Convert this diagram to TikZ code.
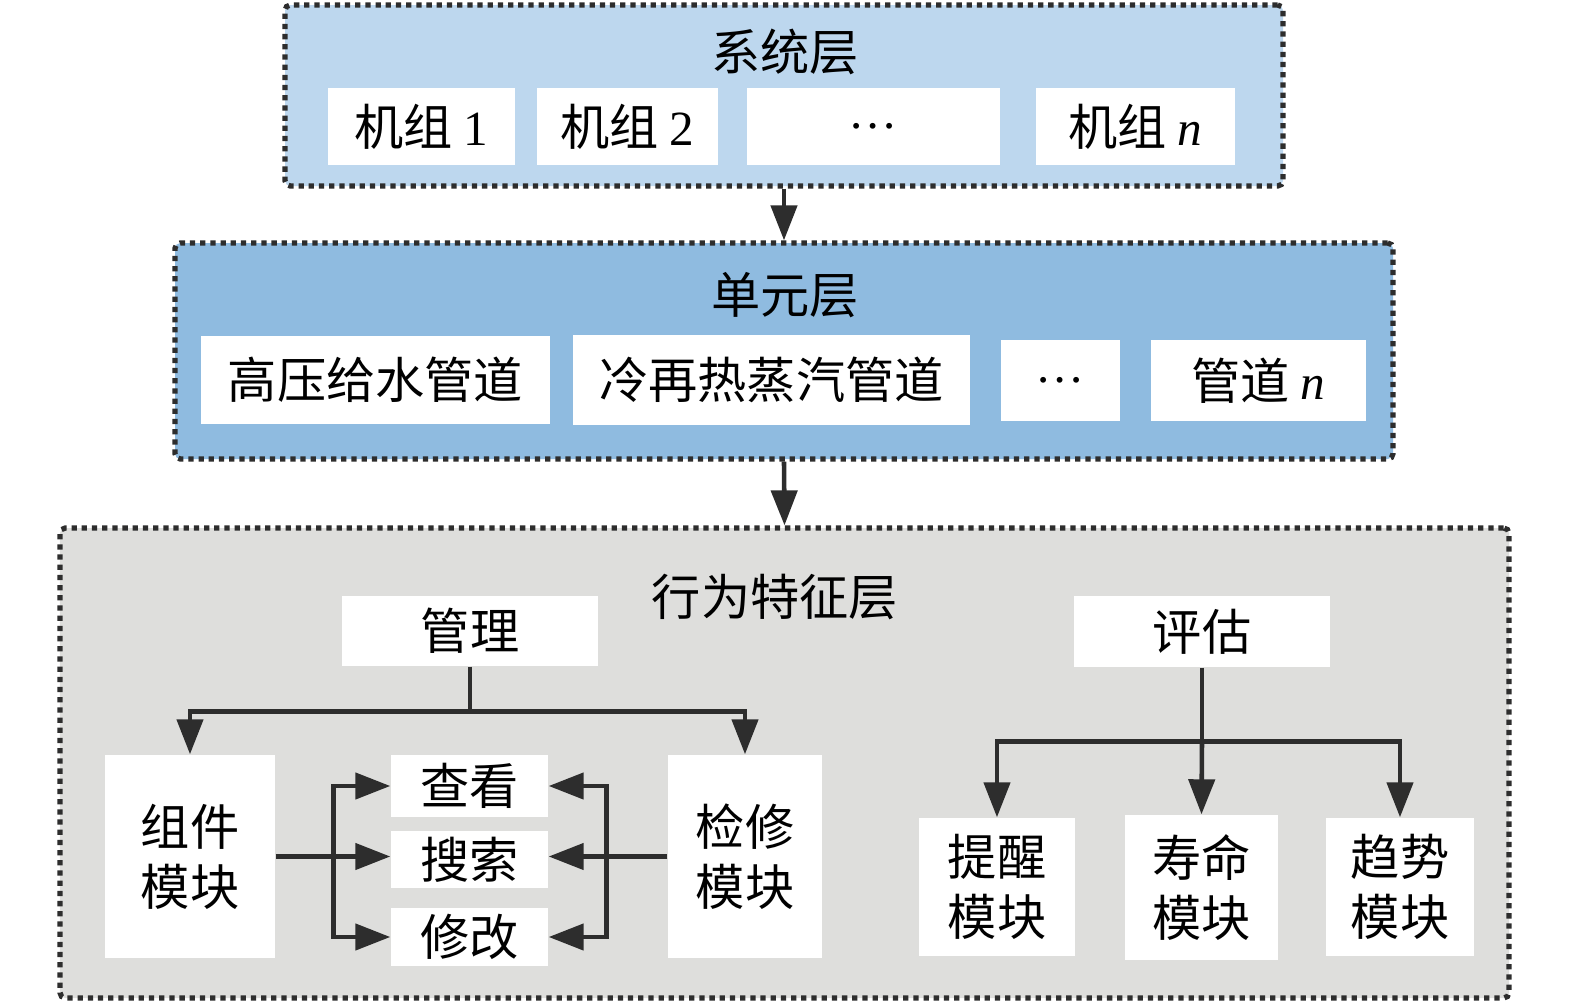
\documentclass[tikz,border=0pt]{standalone}
\usepackage{fontspec}
\setmainfont{Liberation Serif}
\newfontfamily\cjk{Noto Sans CJK SC}
\usetikzlibrary{positioning, arrows.meta, calc}

\definecolor{syscol}{RGB}{189,215,238}
\definecolor{unitcol}{RGB}{143,187,224}
\definecolor{behcol}{RGB}{222,222,220}
\definecolor{ink}{RGB}{45,45,45}

\begin{document}
\begin{tikzpicture}[
    layer/.style={draw=ink, line width=1.5pt, dash pattern=on 1.5pt off 1.4pt, rounded corners=1.5pt, inner sep=0pt},
    cell/.style={fill=white, inner sep=0pt, align=center, font=\cjk\fontsize{14pt}{17pt}\selectfont},
    title/.style={inner sep=0pt, font=\cjk\fontsize{14pt}{17pt}\selectfont},
    link/.style={draw=ink, line width=1.3pt},
    arr/.style={link, -{Triangle[length=3.5mm, width=2.6mm]}},
]
\useasboundingbox (0,0) rectangle (15.75,10.06);

% Layer frames
\node[layer, fill=syscol, minimum width=9.98cm, minimum height=1.81cm] (sys) at (7.84,9.105) {};
\node[layer, fill=unitcol, minimum width=12.18cm, minimum height=2.16cm] (unit) at (7.84,6.55) {};
\node[layer, fill=behcol, minimum width=14.49cm, minimum height=4.70cm] (beh) at (7.845,2.43) {};

% System layer
\node[title] (systitle) at (7.85,9.54) {系统层};
\node[cell, minimum width=1.87cm, minimum height=0.77cm] (set1) at (4.215,8.795) {机组 \textrm{1}};
\node[cell, minimum width=1.81cm, minimum height=0.77cm] (set2) at (6.275,8.795) {机组 \textrm{2}};
\node[cell, minimum width=2.53cm, minimum height=0.77cm] (setdots) at (8.735,8.795) {\textrm{…}};
\node[cell, minimum width=1.99cm, minimum height=0.77cm] (setn) at (11.355,8.795) {机组 \textrm{\itshape n}};

% Unit layer
\node[title] (unittitle) at (7.85,7.11) {单元层};
\node[cell, minimum width=3.49cm, minimum height=0.88cm] (hpfw) at (3.755,6.26) {高压给水管道};
\node[cell, minimum width=3.97cm, minimum height=0.90cm] (crh) at (7.715,6.26) {冷再热蒸汽管道};
\node[cell, minimum width=1.19cm, minimum height=0.81cm] (pipedots) at (10.605,6.255) {\textrm{…}};
\node[cell, minimum width=2.15cm, minimum height=0.81cm] (pipen) at (12.585,6.255) {管道 \textrm{\itshape n}};

% Behaviour layer
\node[title] (behtitle) at (7.75,4.09) {行为特征层};
\node[cell, minimum width=2.56cm, minimum height=0.70cm] (mgmt) at (4.70,3.75) {管理};
\node[cell, minimum width=2.56cm, minimum height=0.71cm] (eval) at (12.02,3.745) {评估};

\node[cell, minimum width=1.70cm, minimum height=2.03cm] (comp) at (1.90,1.495) {组件\\模块};
\node[cell, minimum width=1.57cm, minimum height=0.62cm] (view) at (4.695,2.20) {查看};
\node[cell, minimum width=1.57cm, minimum height=0.57cm] (search) at (4.695,1.465) {搜索};
\node[cell, minimum width=1.57cm, minimum height=0.58cm] (modify) at (4.695,0.69) {修改};
\node[cell, minimum width=1.54cm, minimum height=2.03cm] (repair) at (7.45,1.495) {检修\\模块};

\node[cell, minimum width=1.56cm, minimum height=1.38cm] (remind) at (9.97,1.19) {提醒\\模块};
\node[cell, minimum width=1.53cm, minimum height=1.45cm] (life) at (12.015,1.185) {寿命\\模块};
\node[cell, minimum width=1.48cm, minimum height=1.38cm] (trend) at (14.00,1.19) {趋势\\模块};

% Between layers
\draw[arr] (sys.south) -- (unit.north);
\draw[arr] (unit.south) -- (beh.north);

% Management tree
\coordinate (mbus) at ($(mgmt.south)+(0,-0.45)$);
\draw[link] (mgmt.south) -- (mbus);
\draw[arr] (mbus) -| (comp.north);
\draw[arr] (mbus) -| (repair.north);

% Component module to functions
\coordinate (lj) at ($(comp.east)+(0.58,0)$);
\draw[link] (comp.east) -- (lj);
\draw[arr] (lj) |- (view.west);
\draw[arr] (lj) -- (lj -| search.west);
\draw[arr] (lj) |- (modify.west);

% Repair module to functions
\coordinate (rj) at ($(repair.west)+(-0.61,0)$);
\draw[link] (repair.west) -- (rj);
\draw[arr] (rj) |- (view.east);
\draw[arr] (rj) -- (rj -| search.east);
\draw[arr] (rj) |- (modify.east);

% Evaluation tree
\coordinate (ebus) at ($(eval.south)+(0,-0.74)$);
\draw[link] (eval.south) -- (ebus);
\draw[arr] (ebus) -| (remind.north);
\draw[arr] (ebus) -- (life.north);
\draw[arr] (ebus) -| (trend.north);

\end{tikzpicture}
\end{document}
